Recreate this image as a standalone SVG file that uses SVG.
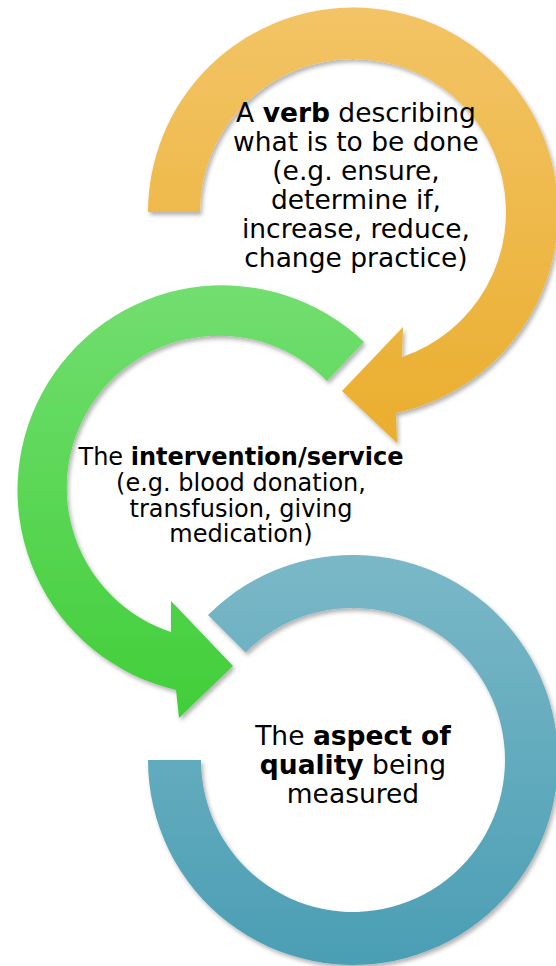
<svg xmlns="http://www.w3.org/2000/svg" width="556" height="966" viewBox="0 0 556 966">
  <defs>
    <linearGradient id="gOrange" gradientUnits="userSpaceOnUse" x1="0" y1="7" x2="0" y2="445">
      <stop offset="0" stop-color="#F3C466"/>
      <stop offset="1" stop-color="#EAAE2E"/>
    </linearGradient>
    <linearGradient id="gGreen" gradientUnits="userSpaceOnUse" x1="0" y1="285" x2="0" y2="720">
      <stop offset="0" stop-color="#72DE70"/>
      <stop offset="1" stop-color="#41CE39"/>
    </linearGradient>
    <linearGradient id="gBlue" gradientUnits="userSpaceOnUse" x1="0" y1="555" x2="0" y2="965">
      <stop offset="0" stop-color="#7AB8C7"/>
      <stop offset="1" stop-color="#4B9EB4"/>
    </linearGradient>
    <filter id="shadow" x="-10%" y="-10%" width="125%" height="125%">
      <feDropShadow dx="2" dy="3" stdDeviation="2.2" flood-color="#000" flood-opacity="0.3"/>
    </filter>
  </defs>
  <style>
    .lbl { font-family: "DejaVu Sans", Verdana, sans-serif; fill: #000; text-anchor: middle; }
    .big { font-size: 26.5px; }
    .mid { font-size: 24px; }
    .b { font-weight: bold; }
  </style>
  <rect width="556" height="966" fill="#fff"/>
  <g id="connectors">
    <path id="arrow-orange" filter="url(#shadow)" fill="url(#gOrange)" d="M 148 212 A 205 205 0 1 1 396 413 L 397 443 L 342 391 L 403 327 L 402 357 A 153 153 0 1 0 200 212 Z"/>
    <path id="arrow-green" filter="url(#shadow)" fill="url(#gGreen)" d="M 364 342 A 205 205 0 1 0 176 690 L 179 718 L 233 666 L 171 601 L 171 632 A 152 152 0 1 1 327 381 Z"/>
    <path id="ring-blue" filter="url(#shadow)" fill="url(#gBlue)" d="M 208 615 A 205 205 0 1 1 148 760 L 201 760 A 152 152 0 1 0 245.5 652.5 Z"/>
  </g>
  <g id="node-verb">
    <text class="lbl big" x="356" y="122">A <tspan class="b">verb</tspan> describing</text>
    <text class="lbl big" x="356" y="151">what is to be done</text>
    <text class="lbl big" x="356" y="180">(e.g. ensure,</text>
    <text class="lbl big" x="356" y="209">determine if,</text>
    <text class="lbl big" x="356" y="238">increase, reduce,</text>
    <text class="lbl big" x="356" y="267">change practice)</text>
  </g>
  <g id="node-intervention">
    <text class="lbl mid" x="241" y="465">The <tspan class="b">intervention/service</tspan></text>
    <text class="lbl mid" x="241" y="491">(e.g. blood donation,</text>
    <text class="lbl mid" x="241" y="517">transfusion, giving</text>
    <text class="lbl mid" x="241" y="542">medication)</text>
  </g>
  <g id="node-quality">
    <text class="lbl big" x="353" y="745">The <tspan class="b">aspect of</tspan></text>
    <text class="lbl big" x="353" y="774"><tspan class="b">quality</tspan> being</text>
    <text class="lbl big" x="353" y="803">measured</text>
  </g>
</svg>
